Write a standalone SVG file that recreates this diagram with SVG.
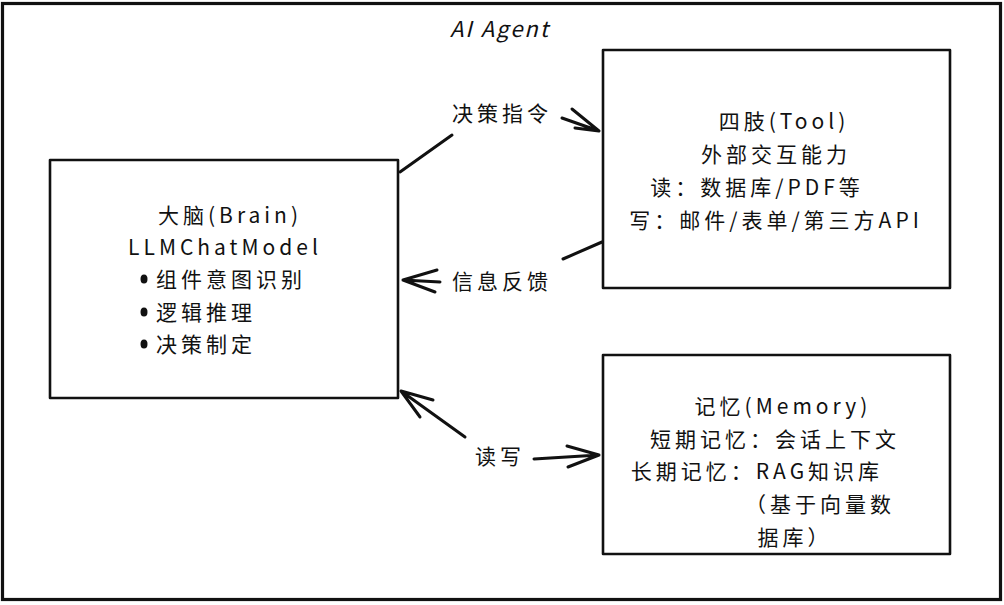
<svg xmlns="http://www.w3.org/2000/svg" width="1004" height="605" viewBox="0 0 1004 605">
<style>
.box{fill:#fff;stroke:#111;stroke-width:2.6;stroke-linejoin:round}
.frame{fill:#fff;stroke:#111;stroke-width:3.2}
.t{font-family:"Noto Sans CJK SC","Noto Sans",sans-serif;font-size:21px;fill:#111;dominant-baseline:central;letter-spacing:4px}
.m{text-anchor:middle}
.c{fill:none;stroke:#111;stroke-width:3;stroke-linecap:round;stroke-linejoin:round}
</style>
<rect class="frame" x="2.5" y="3.5" width="998" height="596"/>
<g id="title"><text class="t m" x="500" y="27" style="font-style:italic;letter-spacing:2px;font-size:22px">AI Agent</text></g>
<g id="brain">
<rect class="box" x="50" y="160" width="348" height="238"/>
<text class="t m" x="230" y="214">大脑(Brain)</text>
<text class="t m" x="225" y="246">LLMChatModel</text>
<ellipse cx="144" cy="279" rx="3.5" ry="4.5" fill="#111"/>
<text class="t" x="156" y="278">组件意图识别</text>
<ellipse cx="144" cy="312" rx="3.5" ry="4.5" fill="#111"/>
<text class="t" x="156" y="311">逻辑推理</text>
<ellipse cx="144" cy="344" rx="3.5" ry="4.5" fill="#111"/>
<text class="t" x="156" y="343">决策制定</text>
</g>
<g id="tool">
<rect class="box" x="603" y="50" width="347" height="238"/>
<text class="t m" x="784" y="120">四肢(Tool)</text>
<text class="t m" x="776" y="153">外部交互能力</text>
<text class="t m" x="757" y="186">读：数据库/PDF等</text>
<text class="t m" x="776" y="219">写：邮件/表单/第三方API</text>
</g>
<g id="memory">
<rect class="box" x="603" y="355" width="347" height="199"/>
<text class="t m" x="783" y="405">记忆(Memory)</text>
<text class="t m" x="775" y="438">短期记忆：会话上下文</text>
<text class="t m" x="757" y="470">长期记忆：RAG知识库</text>
<text class="t m" x="820" y="503">（基于向量数</text>
<text class="t m" x="795" y="536">据库）</text>
</g>
<g id="connectors">
<path class="c" d="M400 172 L452 135"/>
<path class="c" d="M562 118 L599 131 M572 109 L599 131 M575 128 L599 131"/>
<text class="t m" x="502" y="112">决策指令</text>
<path class="c" d="M602 242 L563 259"/>
<path class="c" d="M440 282 L403 280 M437 270 L403 280 L435 292"/>
<text class="t m" x="502" y="280">信息反馈</text>
<path class="c" d="M465 437 L401 391 M433 400 L401 391 L420 417"/>
<path class="c" d="M534 459 L599 455 M567 446 L599 455 L568 467"/>
<text class="t m" x="500" y="455">读写</text>
</g>
</svg>
